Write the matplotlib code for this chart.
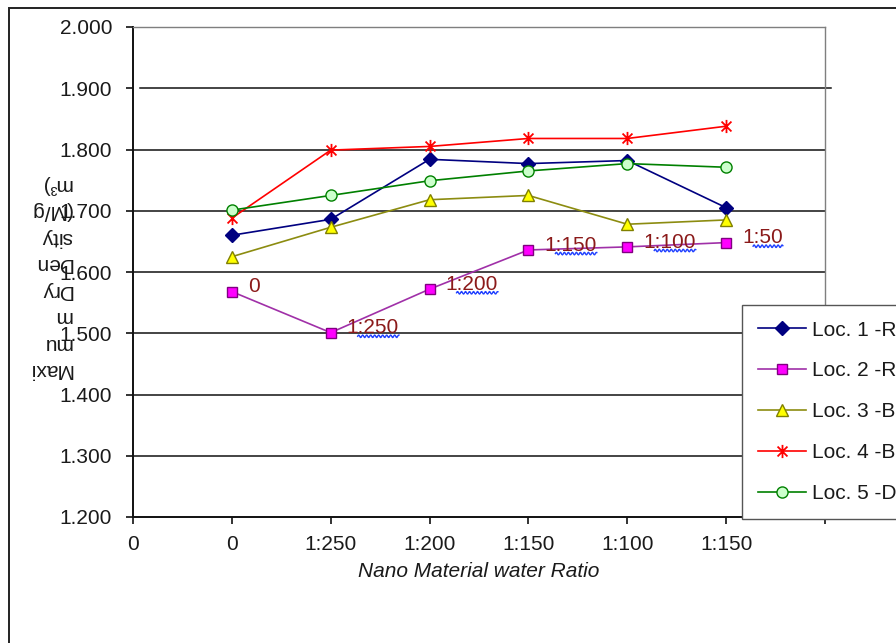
import matplotlib
matplotlib.use("Agg")
import matplotlib.pyplot as plt
import numpy as np
from matplotlib.path import Path
from matplotlib.lines import Line2D
from matplotlib.patches import Rectangle

plt.rcParams['font.family'] = ['Liberation Sans', 'DejaVu Sans']

# Category positions along the x axis and their labels
x_pos = [0, 1, 2, 3, 4, 5, 6, 7]
x_labels = ['0', '0', '1:250', '1:200', '1:150', '1:100', '1:150', '']
data_x = [1, 2, 3, 4, 5, 6]

# Maximum dry density per location
loc1 = [1.660, 1.686, 1.784, 1.777, 1.782, 1.705]
loc2 = [1.568, 1.501, 1.572, 1.636, 1.641, 1.648]
loc3 = [1.625, 1.673, 1.718, 1.725, 1.678, 1.685]
loc4 = [1.688, 1.799, 1.805, 1.818, 1.818, 1.838]
loc5 = [1.701, 1.725, 1.749, 1.765, 1.777, 1.771]
series_names = ['Loc. 1 -R', 'Loc. 2 -R', 'Loc. 3 -B', 'Loc. 4 -B', 'Loc. 5 -D']

# Ratio notes written beside the Loc. 2 points
ratio_notes = ['0', '1:250', '1:200', '1:150', '1:100', '1:50']

y_ticks = [1.2, 1.3, 1.4, 1.5, 1.6, 1.7, 1.8, 1.9, 2.0]

W, H = 896, 643
fig = plt.figure(figsize=(W / 100, H / 100), dpi=100)
ax = fig.add_axes([133 / W, 1 - 517 / H, 692 / W, 490 / H])

# star marker: vertical bar plus an X
star = Path([(0, -1), (0, 1), (-0.75, -0.75), (0.75, 0.75), (-0.75, 0.75), (0.75, -0.75)],
            [Path.MOVETO, Path.LINETO, Path.MOVETO, Path.LINETO, Path.MOVETO, Path.LINETO])

TXT = '#1a1a1a'
ax.set_xlim(0, 7)
ax.set_ylim(1.2, 2.0)

# horizontal gridlines
for v in y_ticks[1:-2]:
    ax.axhline(v, color='#111111', lw=1.1, zorder=1)
ax.axhline(1.9, xmin=7 / 692, xmax=1 + 6 / 692, color='#111111', lw=1.1, zorder=1, clip_on=False)

styles = [
    dict(color='#000080', marker='D', ms=7.5, mfc='#000080', mec='#000080'),
    dict(color='#A030A8', marker='s', ms=7.5, mfc='#FF00FF', mec='#800080'),
    dict(color='#8C8C10', marker='^', ms=9, mfc='#FFFF00', mec='#808000'),
    dict(color='#FF0000', marker=star, ms=9.5, mfc='none', mec='#FF0000', mew=1.3),
    dict(color='#008000', marker='o', ms=8, mfc='#CCFFCC', mec='#008000'),
]
for vals, name, st in zip([loc1, loc2, loc3, loc4, loc5], series_names, styles):
    ax.plot(data_x, vals, lw=1.2, label=name, zorder=3, **st)

notes = []
for xv, yv, t in zip(data_x, loc2, ratio_notes):
    notes.append(ax.annotate(t, (xv, yv), xytext=(11.5, 3.5), textcoords='offset points',
                             ha='left', va='center', fontsize=15, color='#8B1A1A', zorder=4))

ax.set_yticks(y_ticks)
ax.set_yticklabels([f'{v:.3f}' for v in y_ticks])
ax.set_xticks(x_pos)
ax.set_xticklabels(x_labels)
ax.tick_params(axis='both', direction='out', length=5, width=1.2, colors='#111111',
               labelsize=15, labelcolor=TXT)
ax.tick_params(axis='y', pad=10)
ax.tick_params(axis='x', pad=8)

for side in ['left', 'bottom']:
    ax.spines[side].set_color('#111111')
    ax.spines[side].set_linewidth(1.4)
for side in ['top', 'right']:
    ax.spines[side].set_color('#7f7f7f')
    ax.spines[side].set_linewidth(1.0)

ax.set_xlabel('Nano Material water Ratio', fontsize=15, style='italic', color=TXT, labelpad=6)

fig.text(72 / W, 1 - 277 / H, 'Maxi\nmu\nm\nDry\nDen\nsity\n(M/g\nm³)', rotation=180,
         ha='right', va='center', multialignment='left', fontsize=15, color=TXT,
         linespacing=1.5)

leg = ax.legend(loc='upper left', bbox_to_anchor=(742 / W, 1 - 305 / H),
                bbox_transform=fig.transFigure, borderaxespad=0, fontsize=15,
                frameon=True, fancybox=False, edgecolor='#555555', framealpha=1,
                handlelength=2.3, handletextpad=0.3, labelspacing=1.05, borderpad=0.75)
leg.get_frame().set_linewidth(1.0)
leg.set_zorder(5)
for t in leg.get_texts():
    t.set_color(TXT)

# outer chart border
fig.patches.append(Rectangle((9 / W, -0.2), 2, 1.2 - 8 / H, transform=fig.transFigure,
                             fill=False, edgecolor='#222222', lw=1.4))

# wavy blue underline below the ratio notes
fig.canvas.draw()
r = fig.canvas.get_renderer()
for t in notes[1:]:
    bb = t.get_window_extent(r)
    x0, x1 = bb.x0 + 11, bb.x1
    xs = np.linspace(x0, x1, 60)
    ys = bb.y0 + 1 + 1.3 * np.sin((xs - x0) / 4.0 * 2 * np.pi)
    fig.lines.append(Line2D(xs, ys, transform=None, color='#2040FF', lw=1.0))

fig.savefig('out.png', dpi=100)
